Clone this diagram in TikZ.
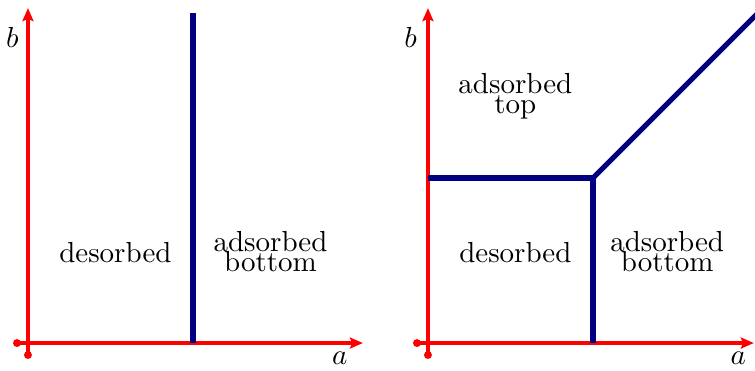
\documentclass[tikz,border=0pt]{standalone}
\usetikzlibrary{arrows.meta}
\begin{document}
\begin{tikzpicture}[
  axis/.style={red, line width=1.1pt, -{Stealth[length=4.5pt,width=3.8pt,inset=0.8pt]}},
  dotmark/.style={red, fill=red},
  phase/.style={blue!50!black, line width=1.8pt},
  lbl/.style={align=center, inner sep=0pt}
]
\useasboundingbox (-0.339,-0.327) rectangle (8.812,4.158);
\clip (-0.339,-0.327) rectangle (8.812,4.158);
% ---------- left panel ----------
\coordinate (O1) at (0,0);
\coordinate (x1s) at (-0.133,0);
\coordinate (x1e) at (4.06,0);
\coordinate (y1s) at (0,-0.145);
\coordinate (y1e) at (0,4.06);
\draw[axis] (x1s) -- (x1e);
\draw[axis] (y1s) -- (y1e);
\fill[dotmark] (x1s) circle (0.048);
\fill[dotmark] (y1s) circle (0.048);
\node (b1) at (-0.19,3.71) {$b$};
\node (a1) at (3.78,-0.18) {$a$};
\coordinate (L1) at (2,0);
\coordinate (L2) at (2,4);
\draw[phase] (L1) -- (L2);
\node[lbl] (des1) at (1.06,1.10) {desorbed};
\node[lbl] (bot1) at (2.94,1.11) {adsorbed\\[-5pt]bottom};
% ---------- right panel ----------
\begin{scope}[shift={(4.848,0)}]
\coordinate (O2) at (0,0);
\coordinate (x2s) at (-0.133,0);
\coordinate (x2e) at (3.95,0);
\coordinate (y2s) at (0,-0.145);
\coordinate (y2e) at (0,4.06);
\draw[axis] (x2s) -- (x2e);
\draw[axis] (y2s) -- (y2e);
\fill[dotmark] (x2s) circle (0.048);
\fill[dotmark] (y2s) circle (0.048);
\node (b2) at (-0.21,3.71) {$b$};
\node (a2) at (3.76,-0.18) {$a$};
\coordinate (H0) at (0,2);
\coordinate (T) at (2,2);
\coordinate (B) at (2,0);
\coordinate (D) at (4.5,4.5);
\draw[phase] (H0) -- (T) -- (B);
\draw[phase] (T) -- (D);
\node[lbl] (top2) at (1.06,2.99) {adsorbed\\[-5pt]top};
\node[lbl] (des2) at (1.06,1.10) {desorbed};
\node[lbl] (bot2) at (2.90,1.11) {adsorbed\\[-5pt]bottom};
\end{scope}
\end{tikzpicture}
\end{document}
